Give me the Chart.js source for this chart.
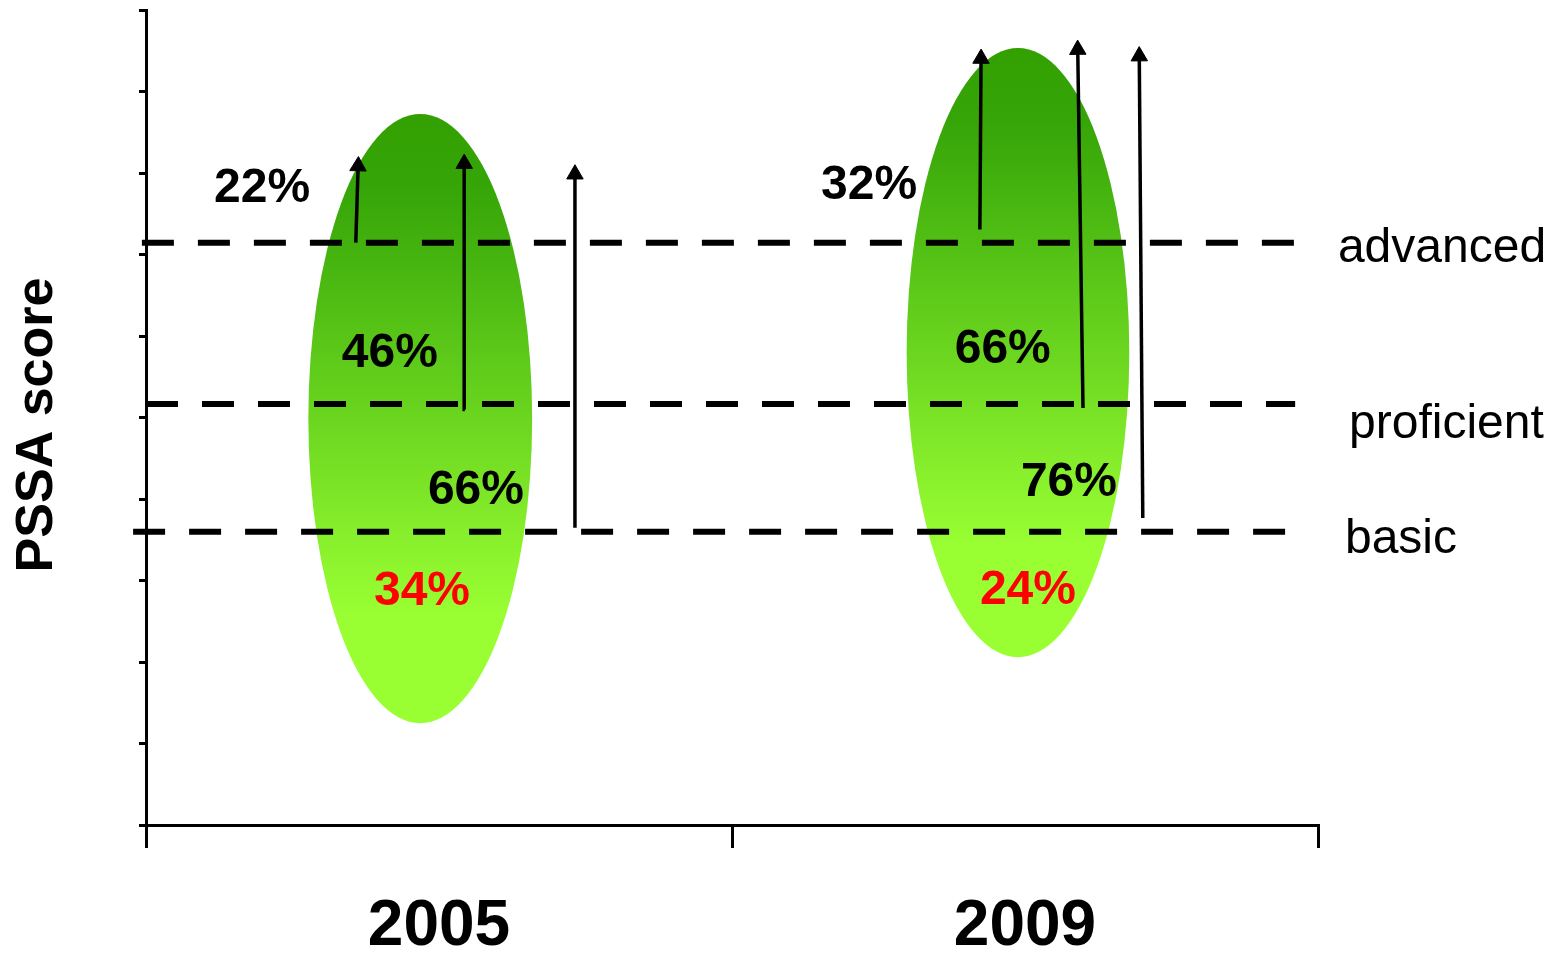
<!DOCTYPE html>
<html>
<head>
<meta charset="utf-8">
<title>PSSA score</title>
<script src="https://cdn.jsdelivr.net/npm/chart.js@4.4.1/dist/chart.umd.min.js"></script>
<style>
  html, body { margin: 0; padding: 0; background: #fff; }
  #wrap { width: 1557px; height: 954px; }
</style>
</head>
<body>
<div id="wrap"><canvas id="chart" width="1557" height="954"></canvas></div>
<script>
// ---- data ----
const years = ['2005', '2009'];
const levelNames = ['advanced', 'proficient', 'basic'];
const levelScores = [7.15, 5.17, 3.60];

// share of students at or above advanced / proficient / basic
const atOrAbove2005 = [22, 46, 66];
const atOrAbove2009 = [32, 66, 76];
// share of students below basic
const belowBasic = [34, 24];

// score spread of each cohort (top and bottom of its oval)
const spreadTop = [8.73, 9.54];
const spreadBottom = [1.25, 2.06];

// arrows, one per level: score where the arrow starts and where its head sits
const arrowFrom2005 = [7.15, 5.10, 3.65];
const arrowTo2005 = [8.09, 8.12, 7.99];
const arrowFrom2009 = [7.31, 5.12, 3.77];
const arrowTo2009 = [9.41, 9.52, 9.44];

// ---- placement on the hidden linear x axis (2005 at 0, 2009 at 1) ----
const place = {
  ovalX: [-0.032, 0.988],
  ovalHalfWidth: [0.191, 0.190],
  levelLineX: [[-0.507, 1.461], [-0.5, 1.461], [-0.522, 1.452]],
  levelLabelX: [1.534, 1.553, 1.546],
  levelLabelDrop: [19, 34, 21],
  arrowX2005: [[-0.142, -0.138], [0.044, 0.043], [0.232, 0.232]],
  arrowX2009: [[0.923, 0.925], [1.099, 1.090], [1.201, 1.195]],
  pctLabel2005: [[-0.302, 7.81], [-0.084, 5.79], [0.063, 4.10]],
  pctLabel2009: [[0.734, 7.85], [0.962, 5.83], [1.075, 4.20]],
  belowLabel: [[-0.029, 2.86], [1.005, 2.88]]
};

const FONT = '"Liberation Sans", Arial, Helvetica, sans-serif';

// head direction of an arrow, from its two points in pixel space
function arrowRotation(c) {
  const chart = c.chart;
  const xv = chart.scales.xv, ys = chart.scales.y;
  if (!xv || !ys) return 0;
  const a = c.dataset.data[0], b = c.dataset.data[1];
  const dx = xv.getPixelForValue(b.x) - xv.getPixelForValue(a.x);
  const dy = ys.getPixelForValue(b.y) - ys.getPixelForValue(a.y);
  return Math.atan2(dx, -dy) * 180 / Math.PI;
}

const datasets = [];

// arrows
[[arrowFrom2005, arrowTo2005, place.arrowX2005],
 [arrowFrom2009, arrowTo2009, place.arrowX2009]].forEach(([from, to, xs]) => {
  from.forEach((v, k) => {
    datasets.push({
      type: 'line',
      xAxisID: 'xv',
      yAxisID: 'y',
      data: [{ x: xs[k][0], y: v }, { x: xs[k][1], y: to[k] }],
      borderColor: '#000',
      borderWidth: 3.5,
      pointRadius: [0, 9.5],
      pointHoverRadius: [0, 9.5],
      pointStyle: 'triangle',
      pointBackgroundColor: '#000',
      pointBorderColor: '#000',
      pointBorderWidth: 1,
      pointRotation: arrowRotation,
      clip: false,
      order: 1
    });
  });
});

// dashed level lines
levelScores.forEach((s, i) => {
  datasets.push({
    type: 'line',
    xAxisID: 'xv',
    yAxisID: 'y',
    data: [{ x: place.levelLineX[i][0], y: s }, { x: place.levelLineX[i][1], y: s }],
    borderColor: '#000',
    borderWidth: 6,
    borderDash: [32, 24],
    borderCapStyle: 'butt',
    pointRadius: 0,
    pointHoverRadius: 0,
    clip: false,
    order: 2
  });
});

// ovals with a dark-to-light green fade, behind everything else
const ovalPlugin = {
  id: 'ovals',
  beforeDatasetsDraw(chart) {
    const { ctx, scales: { xv, y } } = chart;
    years.forEach((yr, i) => {
      const cx = xv.getPixelForValue(place.ovalX[i]);
      const rx = xv.getPixelForValue(place.ovalX[i] + place.ovalHalfWidth[i]) - cx;
      const top = y.getPixelForValue(spreadTop[i]);
      const bottom = y.getPixelForValue(spreadBottom[i]);
      const g = ctx.createLinearGradient(0, top, 0, bottom);
      g.addColorStop(0, '#33a000');
      g.addColorStop(0.12, '#35a508');
      g.addColorStop(0.82, '#99ff33');
      g.addColorStop(1, '#99ff33');
      ctx.save();
      ctx.beginPath();
      ctx.ellipse(cx, (top + bottom) / 2, rx, (bottom - top) / 2, 0, 0, Math.PI * 2);
      ctx.fillStyle = g;
      ctx.fill();
      ctx.restore();
    });
  }
};

// percentage callouts and level names
const labelPlugin = {
  id: 'callouts',
  afterDatasetsDraw(chart) {
    const { ctx, scales: { xv, y } } = chart;
    ctx.save();
    ctx.textAlign = 'center';
    ctx.textBaseline = 'middle';
    ctx.font = 'bold 48px ' + FONT;
    ctx.fillStyle = '#000';
    [[atOrAbove2005, place.pctLabel2005], [atOrAbove2009, place.pctLabel2009]].forEach(([vals, pos]) => {
      vals.forEach((v, k) => {
        ctx.fillText(v + '%', xv.getPixelForValue(pos[k][0]), y.getPixelForValue(pos[k][1]));
      });
    });
    ctx.fillStyle = '#ff0000';
    belowBasic.forEach((v, i) => {
      const p = place.belowLabel[i];
      ctx.fillText(v + '%', xv.getPixelForValue(p[0]), y.getPixelForValue(p[1]));
    });

    ctx.fillStyle = '#000';
    ctx.font = '48px ' + FONT;
    ctx.textAlign = 'left';
    ctx.textBaseline = 'alphabetic';
    levelNames.forEach((name, i) => {
      ctx.fillText(name, xv.getPixelForValue(place.levelLabelX[i]),
        y.getPixelForValue(levelScores[i]) + place.levelLabelDrop[i]);
    });
    ctx.restore();
  }
};

new Chart(document.getElementById('chart'), {
  data: { labels: years, datasets },
  options: {
    responsive: false,
    animation: false,
    devicePixelRatio: 1,
    events: [],
    layout: { padding: { top: 8, right: 239, bottom: 0, left: 0 } },
    plugins: { legend: { display: false }, tooltip: { enabled: false } },
    scales: {
      x: {
        type: 'category',
        position: 'bottom',
        offset: true,
        grid: {
          offset: true,
          drawOnChartArea: false,
          drawTicks: true,
          tickLength: 23,
          lineWidth: 3,
          color: '#000'
        },
        border: { display: true, color: '#000', width: 3 },
        ticks: {
          color: '#000',
          padding: 41,
          maxRotation: 0,
          autoSkip: false,
          font: { family: FONT, size: 64, weight: 'bold', lineHeight: 1.2 }
        },
        afterFit(scale) { scale.height = 129; }
      },
      xv: {
        type: 'linear',
        display: false,
        position: 'bottom',
        min: -0.5,
        max: 1.5
      },
      y: {
        type: 'linear',
        position: 'left',
        min: 0,
        max: 10,
        ticks: { display: false, stepSize: 1 },
        grid: {
          drawOnChartArea: false,
          drawTicks: true,
          tickLength: 7,
          lineWidth: 3,
          color: '#000'
        },
        border: { display: true, color: '#000', width: 3 },
        title: {
          display: true,
          // trailing no-break space nudges the rotated title slightly lower
          text: 'PSSA score\u00a0',
          color: '#000',
          padding: { top: 6, bottom: 0 },
          font: { family: FONT, size: 52, weight: 'bold', lineHeight: 1.2 }
        },
        afterFit(scale) { scale.width = 146; }
      }
    }
  },
  plugins: [ovalPlugin, labelPlugin]
});
</script>
</body>
</html>
